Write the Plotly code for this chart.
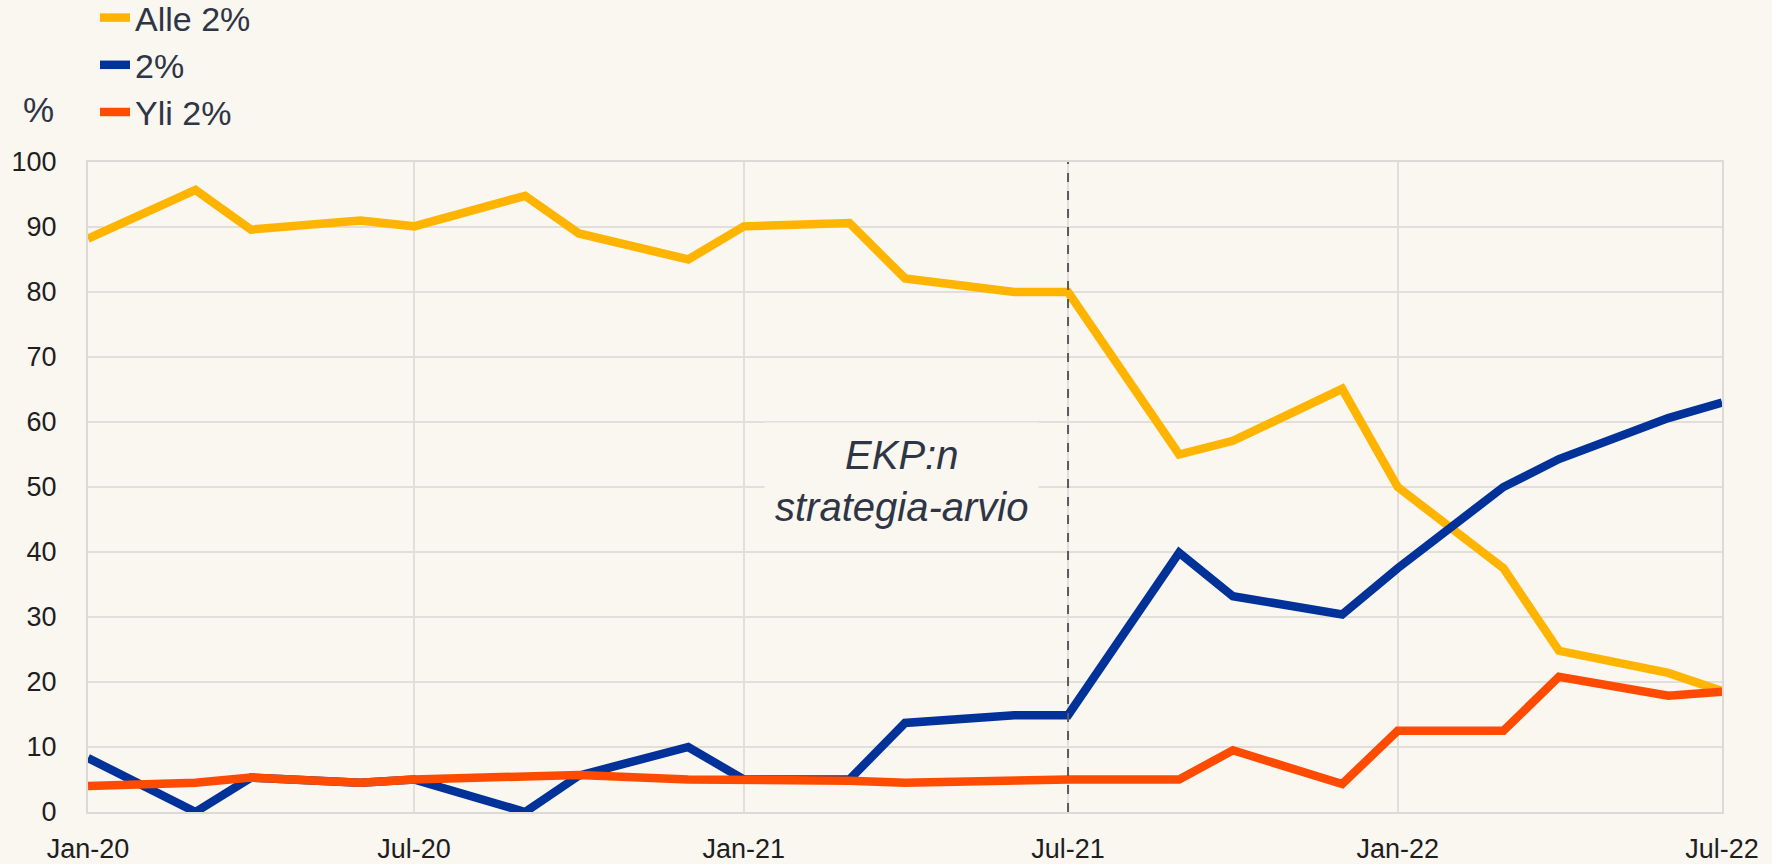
import plotly.graph_objects as go

dates = ["2020-01-01", "2020-03-01", "2020-04-01", "2020-06-01", "2020-07-01", "2020-09-01",
         "2020-10-01", "2020-12-01", "2021-01-01", "2021-03-01", "2021-04-01", "2021-06-01",
         "2021-07-01", "2021-09-01", "2021-10-01", "2021-12-01", "2022-01-01", "2022-03-01",
         "2022-04-01", "2022-06-01", "2022-07-01"]

below_2 = [88.2, 95.7, 89.6, 91.0, 90.1, 94.8, 89.0, 85.0, 90.1, 90.6, 82.1, 80.0,
           80.0, 55.0, 57.1, 65.1, 50.0, 37.5, 24.8, 21.4, 18.6]
at_2 = [8.3, 0.0, 5.3, 4.5, 5.0, 0.0, 5.6, 10.0, 5.0, 5.0, 13.7, 14.9,
        14.9, 39.9, 33.2, 30.4, 37.5, 50.0, 54.3, 60.6, 63.0]
above_2 = [4.0, 4.5, 5.3, 4.5, 5.0, 5.3, 5.7, 5.0, 5.0, 4.8, 4.5, 5.0,
           5.0, 5.0, 9.5, 4.3, 12.5, 12.5, 20.8, 17.9, 18.5]

names = ["Alle 2%", "2%", "Yli 2%"]
colors = ["#FFB400", "#003299", "#FF4B00"]

annot_x = "2021-03-30"
annot_y = 51.0
annot_text = "<i>EKP:n<br>strategia-arvio</i>"
vline_date = "2021-07-01"

BG = "#FAF6F0"
TXT = "#2E3545"
TICK = "#1e1e1e"
GRID = "#E2DFDA"

ML, MR, MT, MB = 88, 50, 162, 52
W, H = 1772, 864
plot_w = W - ML - MR
plot_h = H - MT - MB

fig = go.Figure()
for nm, vals, col in zip(names, [below_2, at_2, above_2], colors):
    fig.add_trace(go.Scatter(x=dates, y=vals, name=nm, mode="lines",
                             line=dict(color=col, width=8.5)))

fig.add_shape(type="line", xref="x", yref="paper", x0=vline_date, x1=vline_date, y0=0, y1=1,
              line=dict(color="#5a5a5a", width=2, dash="dash"))

fig.add_annotation(x=annot_x, y=annot_y, xref="x", yref="y", text=annot_text,
                   showarrow=False, font=dict(family="Liberation Sans, Arial", size=40,
                                              color=TXT),
                   bgcolor=BG, borderpad=10)
fig.add_annotation(x=(38 - ML) / plot_w, y=(H - MB - 110) / plot_h, xref="paper", yref="paper",
                   xanchor="center", yanchor="middle",
                   text="%", showarrow=False,
                   font=dict(family="Liberation Sans, Arial", size=35, color=TXT))

fig.update_layout(
    width=W, height=H,
    paper_bgcolor=BG, plot_bgcolor=BG,
    margin=dict(l=ML, r=MR, t=MT, b=MB, autoexpand=False),
    font=dict(family="Liberation Sans, Arial", color=TICK, size=27),
    showlegend=True,
    legend=dict(x=(95 - ML) / plot_w, y=1 + (MT + 11) / plot_h, xanchor="left", yanchor="top",
                bgcolor="rgba(0,0,0,0)", font=dict(size=34, color=TXT),
                itemwidth=30, tracegroupgap=0),
    xaxis=dict(type="date", range=["2020-01-01", "2022-07-01"], tickformat="%b-%y",
               dtick="M6", tick0="2020-01-01", showgrid=True, gridcolor=GRID,
               gridwidth=2, showline=True, linecolor="#DDDAD5", linewidth=2, mirror=True,
               ticks="", ticklabelstandoff=12, zeroline=False,
               tickfont=dict(size=27, color=TICK)),
    yaxis=dict(range=[0, 100], dtick=10, showgrid=True, gridcolor=GRID, gridwidth=2,
               showline=True, linecolor="#DDDAD5", linewidth=2, mirror=True, ticks="",
               ticklabelstandoff=24, zeroline=False,
               tickfont=dict(size=27, color=TICK)),
)

fig.write_html("out.html", config={"displayModeBar": False},
               post_script="document.body.style.margin='0';document.body.style.padding='0';"
                           "document.body.style.background='" + BG + "';")
